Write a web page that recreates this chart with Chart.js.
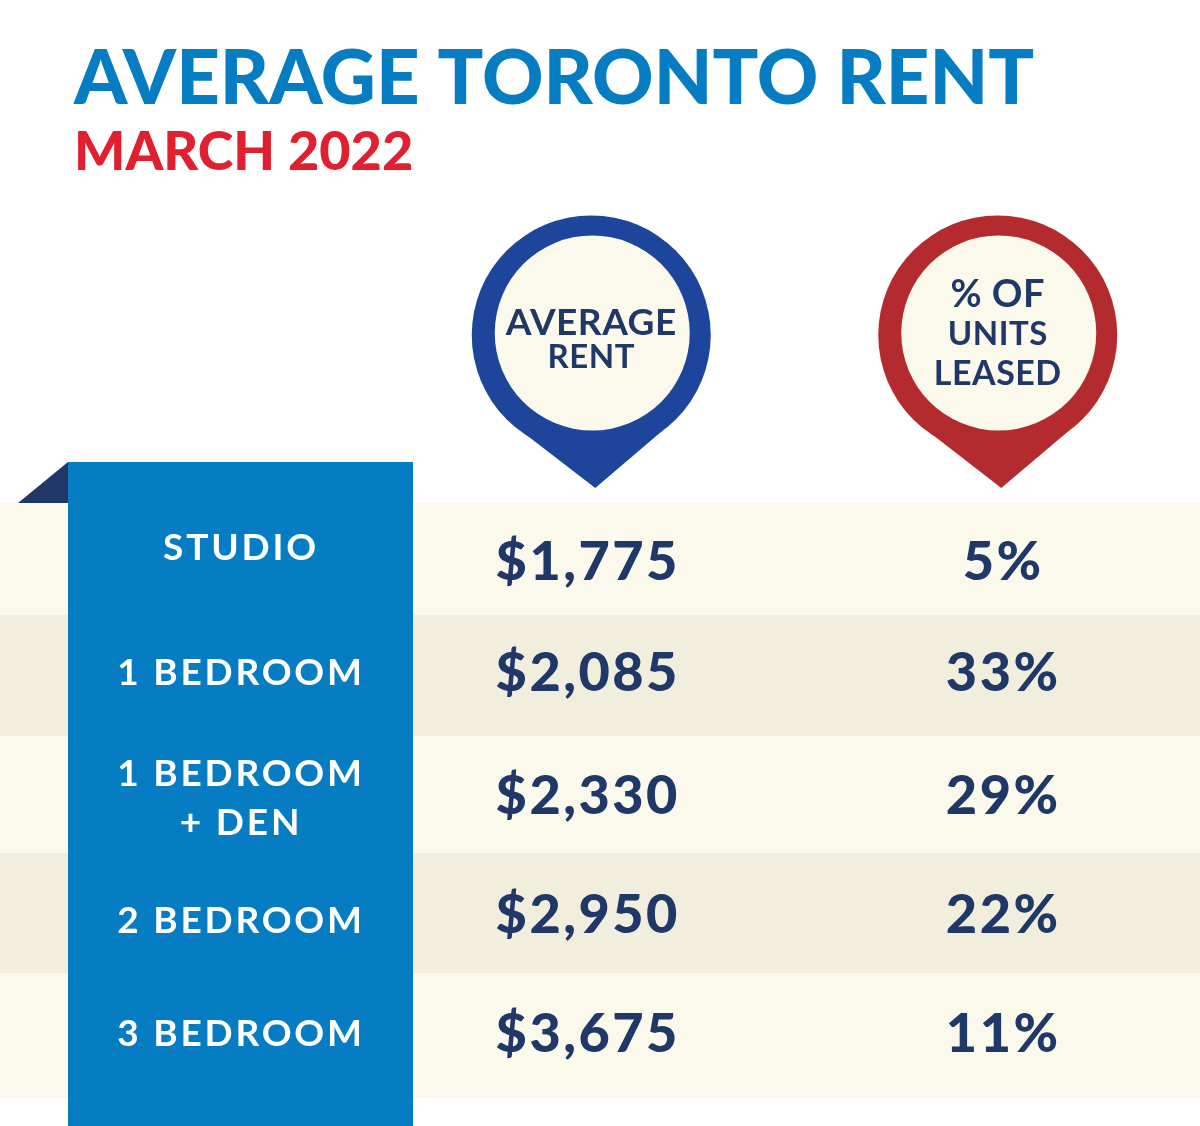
<!DOCTYPE html>
<html>
<head>
<meta charset="utf-8">
<title>Average Toronto Rent</title>
<script src="https://cdn.jsdelivr.net/npm/chart.js@4/dist/chart.umd.min.js"></script>
<style>
  html, body { margin: 0; padding: 0; background: #fff; }
  canvas { display: block; }
</style>
</head>
<body>
<canvas id="rentChart" width="1200" height="1126"></canvas>
<script>
const titleText = 'AVERAGE TORONTO RENT';
const subtitleText = 'MARCH 2022';
const unitTypes = ['STUDIO', '1 BEDROOM', '1 BEDROOM + DEN', '2 BEDROOM', '3 BEDROOM'];
const columnNames = ['AVERAGE RENT', '% OF UNITS LEASED'];
const averageRent = [1775, 2085, 2330, 2950, 3675];
const unitsLeased = [5, 33, 29, 22, 11];

// wrapped the same way as the original graphic
const unitLines = [['STUDIO'], ['1 BEDROOM'], ['1 BEDROOM', '+ DEN'], ['2 BEDROOM'], ['3 BEDROOM']];
const headerLines = [['AVERAGE', 'RENT'], ['% OF', 'UNITS', 'LEASED']];

const FONT = 'Lato, sans-serif';
const NAVY = '#1f3868';
const CREAM = '#fbf8ec';
const CREAM_DARK = '#f2eede';

// the rows in the graphic are not evenly sized, these are pixel nudges from the scale
const edgeNudge = [0, -7, -5, -7, -6, 0];
const valueNudge = [0.5, -7.5, -3.5, -3.5, -3.5];
const labelNudge = [-14.5, -8.5, -2, 1.5, -4.5];
const valueColNudge = [-1, 7];

const headerSizes = [[37, 33], [38, 33, 34]];
const pins = [
    { color: '#1c459b', dx: 2.5, outer: 119.5, innerDx: 1, innerDy: -2, tipDx: 4, left: [-70, 96], right: [72, 95] },
    { color: '#b32b2e', dx: 1.5, outer: 119.5, innerDx: 1, innerDy: -2, tipDx: 3.5, left: [-70, 96], right: [72, 95] }
];
const pinY = 335;
const tipY = 488;

function spacedText(ctx, text, x, y, font, color, spacing) {
    ctx.save();
    ctx.font = font;
    ctx.fillStyle = color;
    ctx.textAlign = 'center';
    ctx.textBaseline = 'middle';
    ctx.letterSpacing = spacing + 'px';
    ctx.fillText(text, x, y);
    ctx.restore();
}

const rentTablePlugin = {
    id: 'rentTable',
    beforeDatasetsDraw(chart) {
        const ctx = chart.ctx;
        const yScale = chart.scales.y;
        const step = yScale.getPixelForValue(1) - yScale.getPixelForValue(0);
        ctx.save();

        // row bands
        unitTypes.forEach((unit, i) => {
            const top = yScale.getPixelForValue(i) - step / 2 + edgeNudge[i];
            const bottom = yScale.getPixelForValue(i) + step / 2 + edgeNudge[i + 1];
            ctx.fillStyle = i % 2 ? CREAM_DARK : CREAM;
            ctx.fillRect(0, top, chart.width, bottom - top);
        });

        // ribbon behind the unit names
        ctx.fillStyle = '#067dc2';
        ctx.fillRect(68, 462, 345, 664);
        ctx.fillStyle = '#1f3868';
        ctx.beginPath();
        ctx.moveTo(18, 503);
        ctx.lineTo(68, 462);
        ctx.lineTo(68, 503);
        ctx.closePath();
        ctx.fill();

        // column header pins
        columnNames.forEach((name, i) => {
            const pin = pins[i];
            const cx = chart.scales.x.getPixelForValue(i) + pin.dx;
            ctx.fillStyle = pin.color;
            ctx.beginPath();
            ctx.arc(cx, pinY, pin.outer, 0, Math.PI * 2);
            ctx.fill();
            ctx.beginPath();
            ctx.moveTo(cx + pin.left[0], pinY + pin.left[1]);
            ctx.lineTo(cx + pin.tipDx, tipY);
            ctx.lineTo(cx + pin.right[0], pinY + pin.right[1]);
            ctx.closePath();
            ctx.fill();
            ctx.fillStyle = CREAM;
            ctx.beginPath();
            ctx.arc(cx + pin.innerDx, pinY + pin.innerDy, 97.5, 0, Math.PI * 2);
            ctx.fill();

            const lineGap = i === 0 ? 34 : 39.5;
            const firstY = pinY - 12 - (i === 0 ? 0 : 28);
            headerLines[i].forEach((line, n) => {
                spacedText(ctx, line, cx, firstY + n * lineGap, 'bold ' + headerSizes[i][n] + 'px ' + FONT, NAVY, 0.5);
            });
        });
        ctx.restore();
    },
    afterDatasetsDraw(chart) {
        const ctx = chart.ctx;
        const yScale = chart.scales.y;

        // unit names
        unitLines.forEach((lines, i) => {
            const mid = yScale.getPixelForValue(i) + labelNudge[i];
            lines.forEach((line, n) => {
                const y = mid + (n - (lines.length - 1) / 2) * 49;
                spacedText(ctx, line, 241, y, 'bold 37px ' + FONT, '#ffffff', 2.8);
            });
        });

        // cell values, placed on the points of each dataset
        chart.data.datasets.forEach((dataset, d) => {
            chart.getDatasetMeta(d).data.forEach((point, i) => {
                const text = dataset.format(dataset.values[i]);
                spacedText(ctx, text, point.x + valueColNudge[d], point.y + valueNudge[i], '900 54px ' + FONT, NAVY, 2.5);
            });
        });
    }
};

function cellPoints(column) {
    return unitTypes.map(unit => ({ x: column, y: unit }));
}

new Chart(document.getElementById('rentChart'), {
    type: 'line',
    data: {
        datasets: [
            {
                label: columnNames[0],
                data: cellPoints(columnNames[0]),
                values: averageRent,
                format: v => '$' + v.toLocaleString('en-US'),
                showLine: false,
                pointRadius: 0
            },
            {
                label: columnNames[1],
                data: cellPoints(columnNames[1]),
                values: unitsLeased,
                format: v => v + '%',
                showLine: false,
                pointRadius: 0
            }
        ]
    },
    options: {
        responsive: false,
        animation: false,
        devicePixelRatio: 1,
        layout: { padding: { left: 74, right: 0, top: 0, bottom: 28 } },
        scales: {
            x: {
                type: 'category',
                labels: columnNames,
                offset: true,
                display: false
            },
            y: {
                type: 'category',
                labels: unitTypes,
                offset: true,
                grid: { display: false },
                border: { display: false },
                ticks: { display: false },
                afterFit(scale) { scale.width = 311; }
            }
        },
        plugins: {
            legend: { display: false },
            tooltip: { enabled: false },
            title: {
                display: true,
                text: titleText,
                align: 'start',
                color: '#067dc2',
                font: { family: 'Lato', size: 76, weight: '900', lineHeight: 1 },
                padding: { top: 41, bottom: 0 }
            },
            subtitle: {
                display: true,
                text: subtitleText,
                align: 'start',
                color: '#e01f2f',
                font: { family: 'Lato', size: 54, weight: '900', lineHeight: 1 },
                padding: { top: 9, bottom: 323 }
            }
        }
    },
    plugins: [rentTablePlugin]
});
</script>
</body>
</html>
